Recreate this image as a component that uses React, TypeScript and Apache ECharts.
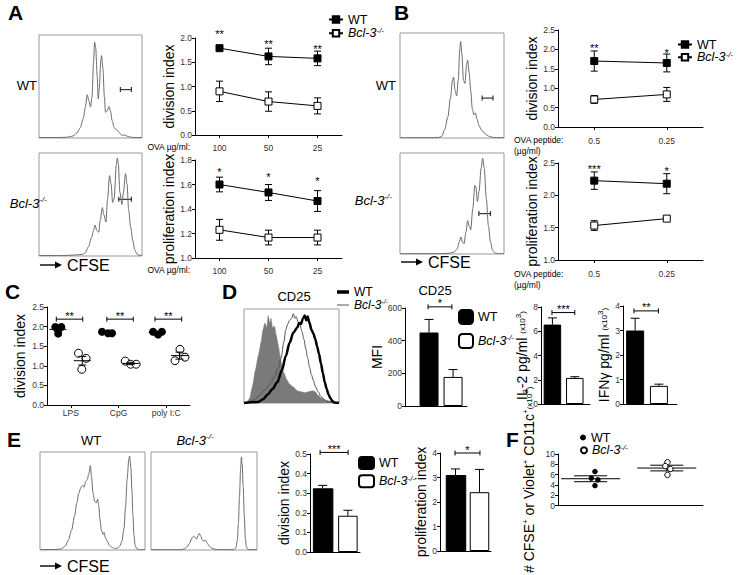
import React, { useEffect, useRef } from 'react';
import * as echarts from 'echarts';

const FONT = '"Liberation Sans", Arial, Helvetica, sans-serif';

// ---------- Panel A ----------
const aDoses = ['100', '50', '25'];
const aDivWT = [1.79, 1.62, 1.58];
const aDivWTErr = [0.03, 0.17, 0.15];
const aDivKO = [0.9, 0.69, 0.6];
const aDivKOErr = [0.21, 0.2, 0.165];
const aDivSig = ['**', '**', '**'];
const aDivSigY = [2.09, 1.88, 1.77];
const aProWT = [1.6, 1.535, 1.465];
const aProWTErr = [0.06, 0.065, 0.085];
const aProKO = [1.23, 1.167, 1.167];
const aProKOErr = [0.085, 0.06, 0.06];
const aProSig = ['*', '*', '*'];
const aProSigY = [1.705, 1.66, 1.625];
const aHistWT = [[0,0.5],[20,0.5],[28,0.8],[33,2],[37,5],[40,10],[43,19],[45,30],[46.8,42],[48.5,36],[50,30],[51.5,40],[53,75],[54,93],[55,88],[56.5,60],[57.5,38],[58.5,48],[60,75],[60.7,80],[62,68],[63.5,40],[64.5,25],[66,26],[68,30.5],[69.5,26],[71,17],[73,10],[75,8],[76,7.5],[78,5],[80,3],[82,2.5],[83.5,3],[85,2],[88,1],[92,0.5],[100,0.5]];
const aHistKO = [[0,0.5],[25,0.5],[35,1],[42,1.5],[45,3],[48,9],[51,18],[53,25],[54.5,30],[56,25],[58,23],[59.5,35],[61.5,47],[63,40],[65,33],[66.5,55],[68.5,78],[70,70],[71.5,52],[73,56],[75,88],[76,95],[77,90],[78.5,62],[80.5,50],[82,62],[84,80],[85.5,70],[87,45],[89,28],[91,15],[93,6],[95,2],[97,0.8],[100,0.5]];
const aGateWT = [[79, 89.7, 47]];
const aGateKO = [[77.4, 89.7, 55]];

// ---------- Panel B ----------
const bDoses = ['0.5', '0.25'];
const bDivWT = [1.7, 1.65];
const bDivWTErr = [0.26, 0.23];
const bDivKO = [0.71, 0.84];
const bDivKOErr = [0.1, 0.18];
const bDivSig = ['**', '*'];
const bDivSigY = [2.03, 1.92];
const bProWT = [2.227, 2.18];
const bProWTErr = [0.135, 0.155];
const bProKO = [1.533, 1.64];
const bProKOErr = [0.075, 0.025];
const bProSig = ['***', '*'];
const bProSigY = [2.41, 2.37];
const bHistWT = [[0,0.3],[30,0.3],[37,0.5],[40,1.5],[43,8],[46,20],[48.5,38],[50.5,55],[51.5,58],[53,45],[54.5,40],[56,55],[57.5,85],[58.3,92],[59.5,80],[61,55],[62.5,52],[64,70],[65,74],[66.5,62],[68,45],[69.5,28],[71,22],[72.5,24],[74,18],[76,12],[78,8],[80,6],[83,3],[86,1.5],[90,0.5],[100,0.3]];
const bHistKO = [[0,0.3],[40,0.3],[48,0.8],[52,2],[55,5],[57,12],[58.5,17],[60,12],[61.5,10],[63.5,22],[65,33],[66.5,28],[68,24],[70,45],[72,68],[73,66],[74.5,52],[76,62],[78,85],[79.5,95],[81,85],[83,55],[85,28],[87,12],[89,4],[91,1.2],[94,0.5],[100,0.3]];
const bGateWT = [[79, 89.4, 38]];
const bGateKO = [[75.8, 87, 40]];

// ---------- Panel C ----------
const cGroups = ['LPS', 'CpG', 'poly I:C'];
const cWTx = [0.35, 0.6, 0.47, 2.31, 2.56, 2.73, 4.45, 4.66, 4.82];
const cWTy = [1.99, 1.99, 1.82, 1.87, 1.83, 1.83, 1.87, 1.8, 1.87];
const cKOx = [1.32, 1.64, 1.46, 3.28, 3.51, 3.74, 5.58, 5.37, 5.79];
const cKOy = [1.32, 1.19, 0.91, 1.12, 1.04, 1.04, 1.42, 1.13, 1.22];
const cMeanX = [0.46, 1.48, 2.5, 3.51, 4.62, 5.56];
const cMean = [1.93, 1.13, 1.84, 1.06, 1.85, 1.26];
const cSem = [0.05, 0.11, 0.02, 0.03, 0.02, 0.09];
const cBrackets = [[0.39, 1.5, 2.19], [2.51, 3.62, 2.19], [4.53, 5.65, 2.19]];
const cSig = ['**', '**', '**'];

// ---------- Panel D ----------
const dHistIso = [[0,0],[3,1],[6,5],[9,18],[12,35],[15,50],[18,65],[20,78],[22,85],[24,80],[25.5,93],[27,85],[28.5,90],[30,80],[32,82],[34,72],[36,62],[38,50],[40,40],[42,32],[45,25],[48,20],[52,17],[56,13],[60,12],[64,11],[68,12],[72,13],[75,12],[78,8],[82,5],[86,3],[90,2],[95,1],[100,0]];
const dHistWT = [[0,0],[15,1],[20,4],[25,9],[30,15],[35,22],[40,35],[44,50],[48,64],[52,75],[56,80],[58,85],[60,84],[62,90],[64,93],[65.5,88],[67,92],[69,85],[71,78],[73,74],[75,68],[77,60],[79,52],[81,42],[83,32],[85,22],[87,15],[89,9],[91,5],[93,2],[95,0.5],[100,0]];
const dHistKO = [[0,0],[5,1],[10,3],[15,7],[20,12],[24,16],[28,22],[32,28],[36,37],[39,48],[42,65],[44,78],[46,84],[48,88],[50,90],[52,95],[53.5,90],[55,92],[57,86],[59,83],[61,76],[63,68],[65,58],[67,48],[69,38],[71,30],[73,24],[75,18],[78,12],[81,7],[84,4],[87,2],[90,1],[95,0.3],[100,0]];
const dMFI = [450, 178];
const dMFIErr = [80, 45];
const dMFISig = [[0.96, 1.95, 607]];
const dIL2 = [6.55, 2.15];
const dIL2Err = [0.55, 0.1];
const dIL2Sig = [[0.98, 2.0, 7.54]];
const dIFN = [3.0, 0.74];
const dIFNErr = [0.5, 0.07];
const dIFNSig = [[0.95, 1.98, 3.8]];

// ---------- Panel E ----------
const eHistWT = [[0,0.5],[15,0.5],[20,1],[24,4],[27,10],[30,20],[33,35],[35,48],[37,58],[39,64],[40.5,66],[42,64],[43.5,70],[45,72],[46.5,78],[48,86],[49,75],[50.5,58],[52,50],[53.5,48],[55,52],[56,45],[57,32],[58.5,20],[60,16],[61,18],[62.5,12],[64,9],[66,5],[68,3],[70,2],[72,1.5],[74,2],[76,4],[78,9],[80,22],[81.5,45],[83,72],[84.5,92],[85.3,96],[86.5,85],[87.5,62],[88.5,35],[89.5,15],[90.5,5],[92,1.5],[94,0.5],[100,0.5]];
const eHistKO = [[0,0.3],[28,0.3],[31,1],[34,3],[36.5,7],[38.5,12],[40,14],[41.5,13],[43,11],[44.5,15],[45.5,17],[47,14],[48.5,10],[50,9],[51.5,10],[53,7],[55,4],[57,2],[60,0.8],[65,0.3],[78,0.3],[80,2],[81.5,10],[82.5,28],[83.5,55],[84.5,82],[85.3,95],[86,88],[87,65],[88,35],[89,12],[90,3],[91.5,0.5],[100,0.3]];
const eDiv = [0.325, 0.185];
const eDivErr = [0.015, 0.028];
const eDivSig = [[0.9, 2.01, 0.508]];
const ePro = [3.1, 2.4];
const eProErr = [0.25, 0.93];
const eProSig = [[0.98, 2.02, 4.0]];

// ---------- Panel F ----------
const fWTx = [0.51, 0.46, 0.55, 0.51];
const fWTy = [6.6, 5.35, 5.0, 3.9];
const fKOx = [1.51, 1.48, 1.55, 1.51];
const fKOy = [8.4, 7.65, 7.1, 5.95];
const fMeanX = [0.45, 1.5];
const fMean = [5.21, 7.28];
const fSem = [0.57, 0.55];

const KO = '{i|Bcl-3}{s|-/-}';
const LEG: Record<string, string> = {
  A_WT: 'WT', A_KO: KO, B_WT: 'WT', B_KO: KO, DH_WT: 'WT', DH_KO: KO,
  DM_WT: 'WT', DM_KO: KO, EV_WT: 'WT', EV_KO: KO, F_WT: 'WT', F_KO: KO,
};

const richEC = (fs: number) => ({
  i: { fontStyle: 'italic', fontWeight: 'normal', fontSize: fs, fontFamily: FONT, color: '#000', lineHeight: fs + 2 },
  s: { fontStyle: 'italic', fontWeight: 'normal', fontSize: Math.round(fs * 0.6), fontFamily: FONT, color: '#000', verticalAlign: 'top', lineHeight: Math.round(fs * 0.6) },
  n: { fontSize: fs, fontFamily: FONT, color: '#000', lineHeight: fs + 2 },
  m: { fontSize: Math.round(fs * 0.55), fontFamily: FONT, color: '#000', lineHeight: fs + 2 },
  p: { fontSize: Math.round(fs * 0.55), fontFamily: FONT, color: '#000', verticalAlign: 'top', lineHeight: Math.round(fs * 0.5) },
});

const richZ = (fs: number) => ({
  i: { fontStyle: 'italic', fontWeight: 'normal', fontSize: fs, fontFamily: FONT, fill: '#000', textFill: '#000', lineHeight: fs + 2 },
  s: { fontStyle: 'italic', fontWeight: 'normal', fontSize: Math.round(fs * 0.6), fontFamily: FONT, fill: '#000', textFill: '#000', verticalAlign: 'top', lineHeight: Math.round(fs * 0.6) },
});

type Any = any;

const line = (s: Any) => ({ stroke: '#000', lineWidth: 1, fill: 'none', ...s });

const vErr = (cap: number, lower: boolean) => (params: Any, api: Any) => {
  const x = api.value(0), lo = api.value(1), hi = api.value(2);
  const a = api.coord([x, lo]);
  const b = api.coord([x, hi]);
  const ch: Any[] = [
    { type: 'line', shape: { x1: a[0], y1: a[1], x2: b[0], y2: b[1] }, style: line({}) },
    { type: 'line', shape: { x1: b[0] - cap, y1: b[1], x2: b[0] + cap, y2: b[1] }, style: line({}) },
  ];
  if (lower) ch.push({ type: 'line', shape: { x1: a[0] - cap, y1: a[1], x2: a[0] + cap, y2: a[1] }, style: line({}) });
  return { type: 'group', children: ch };
};

const meanSem = (mh: number, ch: number) => (params: Any, api: Any) => {
  const x = api.value(0), m = api.value(1), s = api.value(2);
  const pm = api.coord([x, m]);
  const pt = api.coord([x, m + s]);
  const pb = api.coord([x, m - s]);
  return {
    type: 'group',
    children: [
      { type: 'line', shape: { x1: pm[0] - mh, y1: pm[1], x2: pm[0] + mh, y2: pm[1] }, style: line({}) },
      { type: 'line', shape: { x1: pt[0], y1: pt[1], x2: pb[0], y2: pb[1] }, style: line({}) },
      { type: 'line', shape: { x1: pt[0] - ch, y1: pt[1], x2: pt[0] + ch, y2: pt[1] }, style: line({}) },
      { type: 'line', shape: { x1: pb[0] - ch, y1: pb[1], x2: pb[0] + ch, y2: pb[1] }, style: line({}) },
    ],
  };
};

const txtStyle = (text: string, x: number, y: number, fs: number, va: string) => ({
  text, x, y, textAlign: 'center', align: 'center', textVerticalAlign: va, verticalAlign: va,
  font: `${fs}px ${FONT}`, fill: '#000', textFill: '#000',
});

const bracket = (labels: string[] | null, tick: number, fs: number, color = '#000', lw = 1) => (params: Any, api: Any) => {
  const x1 = api.value(0), x2 = api.value(1), y = api.value(2);
  const a = api.coord([x1, y]);
  const b = api.coord([x2, y]);
  const st = line({ stroke: color, lineWidth: lw });
  const ch: Any[] = [
    { type: 'line', shape: { x1: a[0], y1: a[1], x2: b[0], y2: b[1] }, style: st },
    { type: 'line', shape: { x1: a[0], y1: a[1] - tick, x2: a[0], y2: a[1] + tick }, style: st },
    { type: 'line', shape: { x1: b[0], y1: b[1] - tick, x2: b[0], y2: b[1] + tick }, style: st },
  ];
  if (labels) {
    ch.push({ type: 'text', style: txtStyle(labels[params.dataIndex], (a[0] + b[0]) / 2, a[1] + 2, fs, 'bottom') });
  }
  return { type: 'group', children: ch };
};

const starText = (labels: string[], fs: number) => (params: Any, api: Any) => {
  const p = api.coord([api.value(0), api.value(1)]);
  return { type: 'text', style: txtStyle(labels[params.dataIndex], p[0], p[1], fs, 'middle') };
};

const custom = (idx: number, data: Any[], renderItem: Any, z = 3) => ({
  type: 'custom', xAxisIndex: idx, yAxisIndex: idx, data, renderItem, z, silent: true, clip: false,
  itemStyle: { color: '#000' },
});

const histS = (idx: number, data: Any[], color = '#6b6b6b', width = 1, extra: Any = {}) => ({
  type: 'line', xAxisIndex: idx, yAxisIndex: idx, data, symbol: 'none', showSymbol: false,
  smooth: 0.3, smoothMonotone: 'x', lineStyle: { color, width }, itemStyle: { color }, silent: true, ...extra,
});

const lineS = (name: string, idx: number, data: number[], open: boolean) => ({
  type: 'line', name, xAxisIndex: idx, yAxisIndex: idx, data, symbol: 'rect', symbolSize: 7,
  lineStyle: { color: '#000', width: 1 }, z: 4, silent: true,
  itemStyle: open ? { color: '#fff', borderColor: '#000', borderWidth: 1 } : { color: '#000', borderColor: '#000', borderWidth: 1 },
});

const barS = (name: string, idx: number, x: number, v: number, open: boolean, w: number) => ({
  type: 'bar', name, xAxisIndex: idx, yAxisIndex: idx, data: [[x, v]], barWidth: w, barGap: '-100%', silent: true, z: 2,
  itemStyle: open ? { color: '#fff', borderColor: '#000', borderWidth: 1 } : { color: '#000', borderColor: '#000', borderWidth: 1 },
});

const scatS = (name: string, idx: number, xs: number[], ys: number[], open: boolean, size: number) => ({
  type: 'scatter', name, xAxisIndex: idx, yAxisIndex: idx, data: xs.map((x, i) => [x, ys[i]]), symbol: 'circle', symbolSize: size,
  silent: true, z: 4,
  itemStyle: open ? { color: '#fff', borderColor: '#000', borderWidth: 1, opacity: 1 } : { color: '#000', borderColor: '#000', borderWidth: 0, opacity: 1 },
});

const errData = (vals: number[], errs: number[]) => vals.map((v, i) => [i, v - errs[i], v + errs[i]]);
const errUp = (vals: number[], errs: number[]) => vals.map((v, i) => [i + 1, v, v + errs[i]]);
const starData = (ys: number[]) => ys.map((y, i) => [i, y]);

const grids: number[][] = [
  [39, 35, 103, 103], // 0 A hist WT
  [39, 153, 103, 103], // 1 A hist KO
  [195, 38, 147, 97], // 2 A div
  [195, 160, 147, 98], // 3 A pro
  [400, 33, 104, 105], // 4 B hist WT
  [400, 153, 104, 101], // 5 B hist KO
  [558, 30, 145, 97], // 6 B div
  [558, 163, 145, 97], // 7 B pro
  [47, 307, 143, 98], // 8 C
  [244, 309, 95, 94], // 9 D hist
  [405, 308, 62, 98], // 10 MFI
  [541, 307, 49, 97], // 11 IL2
  [623, 306, 54, 98], // 12 IFN
  [40, 452, 105, 98], // 13 E hist WT
  [151, 452, 106, 98], // 14 E hist KO
  [310, 454, 50, 98], // 15 E div
  [440, 453, 51, 98], // 16 E pro
  [558, 454, 145, 98], // 17 F
];
const histGrids = [0, 1, 4, 5, 9, 13, 14];

const axLine = { show: true, lineStyle: { color: '#000', width: 1 } };
const tickLab = { fontSize: 8.5, color: '#333', fontFamily: FONT, margin: 3 };

const hiddenAx = (g: number, min: number, max: number, position?: string) => ({ type: 'value', gridIndex: g, min, max, show: false, ...(position ? { position } : {}) });
const catX = (g: number, data: string[], margin: number) => ({
  type: 'category', gridIndex: g, data, boundaryGap: true, position: 'bottom', axisLine: axLine,
  axisTick: { show: true, alignWithLabel: true, length: 3, lineStyle: { color: '#000' } },
  axisLabel: { ...tickLab, margin }, splitLine: { show: false },
});
const plainX = (g: number, min: number, max: number) => ({
  type: 'value', gridIndex: g, min, max, axisLine: { ...axLine, onZero: false }, axisTick: { show: false },
  axisLabel: { show: false }, splitLine: { show: false },
});
const valY = (g: number, min: number, max: number, interval: number, dec: number, name: string, gap: number, fs = 14) => ({
  type: 'value', gridIndex: g, min, max, interval, axisLine: axLine,
  axisTick: { show: true, length: 3, lineStyle: { color: '#000' } },
  axisLabel: { ...tickLab, formatter: (v: number) => v.toFixed(dec) },
  splitLine: { show: false },
  name, nameLocation: 'middle', nameGap: gap, nameRotate: 90,
  nameTextStyle: { fontSize: fs, fontFamily: FONT, color: '#000', rich: richEC(fs) },
});

const xAxes: Any[] = [
  hiddenAx(0, 0, 100), hiddenAx(1, 0, 100),
  catX(2, aDoses, 8), catX(3, aDoses, 8),
  hiddenAx(4, 0, 100), hiddenAx(5, 0, 100),
  catX(6, bDoses, 9), catX(7, bDoses, 9),
  hiddenAx(8, 0, 6, 'bottom'),
  hiddenAx(9, 0, 100),
  plainX(10, 0, 2.58), plainX(11, 0.49, 2.68), plainX(12, 0.49, 2.76),
  hiddenAx(13, 0, 100), hiddenAx(14, 0, 100),
  plainX(15, 0.5, 2.48), plainX(16, 0.354, 2.48),
  plainX(17, 0, 2),
  catX(8, cGroups, 3),
];
const yAxes: Any[] = [
  hiddenAx(0, 0, 100), hiddenAx(1, 0, 100),
  valY(2, 0, 2, 0.5, 1, 'division index', 15),
  valY(3, 1, 1.8, 0.2, 1, 'proliferation index', 15),
  hiddenAx(4, 0, 100), hiddenAx(5, 0, 100),
  valY(6, 0, 2.5, 0.5, 1, 'division index', 15),
  valY(7, 1, 2.5, 0.5, 1, 'proliferation index', 15),
  valY(8, 0, 2.5, 0.5, 1, 'division index', 20),
  hiddenAx(9, 0, 100),
  valY(10, 0, 600, 200, 0, 'MFI', 5),
  valY(11, 0, 8, 2, 0, '{n|IL-2 pg/ml }{m|(x10}{p|3}{m|)}', 6),
  valY(12, 0, 4, 1, 0, '{n|IFNγ pg/ml }{m|(x10}{p|3}{m|)}', 8),
  hiddenAx(13, 0, 100), hiddenAx(14, 0, 100),
  valY(15, 0, 0.5, 0.1, 1, 'division index', 16),
  valY(16, 0, 4, 1, 0, 'proliferation index', 6),
  valY(17, 0, 10, 2, 0, '{n|# CFSE}{p|+}{n| or Violet}{p|+}{n| CD11c}{p|+}{m|(x10}{p|3}{m|)}', 21),
];

const lg = (item: Any, left: number, cy: number, iw: number, ih: number, fs = 12.5) => ({
  data: [item], left, top: cy - 7, orient: 'vertical', itemWidth: iw, itemHeight: ih,
  itemGap: 0, padding: 0, selectedMode: false,
  formatter: (n: string) => LEG[n],
  textStyle: { fontSize: fs, fontFamily: FONT, color: '#000', rich: richEC(fs) },
});

const T = (text: string, x: number, y: number, size: number, align = 'left', opts: Any = {}) => ({
  type: 'text', silent: true,
  style: {
    text, x, y, textAlign: align, align, textVerticalAlign: 'middle', verticalAlign: 'middle',
    fontSize: size, fontFamily: FONT, fontWeight: opts.bold ? 'bold' : 'normal', fontStyle: opts.italic ? 'italic' : 'normal',
    font: `${opts.italic ? 'italic ' : ''}${opts.bold ? 'bold ' : 'normal '}${size}px ${FONT}`,
    fill: '#000', textFill: '#000', rich: richZ(size),
  },
});

const arrow = (x: number, y: number) => ([
  { type: 'line', silent: true, shape: { x1: x, y1: y, x2: x + 17, y2: y }, style: { stroke: '#000', lineWidth: 1.4 } },
  { type: 'polygon', silent: true, shape: { points: [[x + 15, y - 3.5], [x + 22, y], [x + 15, y + 3.5]] }, style: { fill: '#000' } },
  T('CFSE', x + 27, y, 16),
]);

function buildOption() {
  const gate = () => bracket(null, 2.5, 10, '#333', 1.2);
  const series: Any[] = [
    histS(0, aHistWT), histS(1, aHistKO),
    custom(0, aGateWT, gate()), custom(1, aGateKO, gate()),
    lineS('A_WT', 2, aDivWT, false), lineS('A_KO', 2, aDivKO, true),
    custom(2, errData(aDivWT, aDivWTErr), vErr(3.5, true), 3),
    custom(2, errData(aDivKO, aDivKOErr), vErr(3.5, true), 3),
    custom(2, starData(aDivSigY), starText(aDivSig, 11), 5),
    lineS('A_WT', 3, aProWT, false), lineS('A_KO', 3, aProKO, true),
    custom(3, errData(aProWT, aProWTErr), vErr(3.5, true), 3),
    custom(3, errData(aProKO, aProKOErr), vErr(3.5, true), 3),
    custom(3, starData(aProSigY), starText(aProSig, 11), 5),
    histS(4, bHistWT), histS(5, bHistKO),
    custom(4, bGateWT, gate()), custom(5, bGateKO, gate()),
    lineS('B_WT', 6, bDivWT, false), lineS('B_KO', 6, bDivKO, true),
    custom(6, errData(bDivWT, bDivWTErr), vErr(3.5, true), 3),
    custom(6, errData(bDivKO, bDivKOErr), vErr(3.5, true), 3),
    custom(6, starData(bDivSigY), starText(bDivSig, 11), 5),
    lineS('B_WT', 7, bProWT, false), lineS('B_KO', 7, bProKO, true),
    custom(7, errData(bProWT, bProWTErr), vErr(3.5, true), 3),
    custom(7, errData(bProKO, bProKOErr), vErr(3.5, true), 3),
    custom(7, starData(bProSigY), starText(bProSig, 11), 5),
    scatS('C_WT', 8, cWTx, cWTy, false, 8), scatS('C_KO', 8, cKOx, cKOy, true, 8),
    custom(8, cMeanX.map((x, i) => [x, cMean[i], cSem[i]]), meanSem(8.5, 4), 5),
    custom(8, cBrackets, bracket(cSig, 2.5, 11), 5),
    histS(9, dHistIso, '#7a7a7a', 0.5, { areaStyle: { color: '#7a7a7a', opacity: 1 }, z: 1, smooth: 0.15 }),
    histS(9, dHistKO, '#555', 1, { name: 'DH_KO', z: 2 }),
    histS(9, dHistWT, '#000', 2.5, { name: 'DH_WT', z: 3 }),
    barS('DM_WT', 10, 1, dMFI[0], false, 19), barS('DM_KO', 10, 2, dMFI[1], true, 19),
    custom(10, errUp(dMFI, dMFIErr), vErr(4.5, false), 3),
    custom(10, dMFISig, bracket(['*'], 2.5, 11), 5),
    barS('IL_WT', 11, 1, dIL2[0], false, 17.5), barS('IL_KO', 11, 2, dIL2[1], true, 17.5),
    custom(11, errUp(dIL2, dIL2Err), vErr(4.5, false), 3),
    custom(11, dIL2Sig, bracket(['***'], 2.5, 11), 5),
    barS('IF_WT', 12, 1, dIFN[0], false, 18), barS('IF_KO', 12, 2, dIFN[1], true, 18),
    custom(12, errUp(dIFN, dIFNErr), vErr(4.5, false), 3),
    custom(12, dIFNSig, bracket(['**'], 2.5, 11), 5),
    histS(13, eHistWT), histS(14, eHistKO),
    barS('EV_WT', 15, 1, eDiv[0], false, 20.5), barS('EV_KO', 15, 2, eDiv[1], true, 19.5),
    custom(15, errUp(eDiv, eDivErr), vErr(4.5, false), 3),
    custom(15, eDivSig, bracket(['***'], 2.5, 11), 5),
    barS('EP_WT', 16, 1, ePro[0], false, 20.5), barS('EP_KO', 16, 2, ePro[1], true, 19.5),
    custom(16, errUp(ePro, eProErr), vErr(4.5, false), 3),
    custom(16, eProSig, bracket(['*'], 2.5, 11), 5),
    scatS('F_WT', 17, fWTx, fWTy, false, 5.5), scatS('F_KO', 17, fKOx, fKOy, true, 5.5),
    custom(17, fMeanX.map((x, i) => [x, fMean[i], fSem[i]]), meanSem(29.5, 16.5), 3),
  ];

  const graphic: Any[] = [
    T('A', 8, 12, 21, 'left', { bold: true }),
    T('B', 394, 12, 21, 'left', { bold: true }),
    T('C', 5, 291, 21, 'left', { bold: true }),
    T('D', 222, 291, 21, 'left', { bold: true }),
    T('E', 7, 439, 21, 'left', { bold: true }),
    T('F', 506, 439, 21, 'left', { bold: true }),
    T('WT', 37, 85, 13, 'right'),
    T(KO, 47, 203, 13, 'right'),
    T('WT', 396, 85, 13, 'right'),
    T(KO, 392, 200, 13, 'right'),
    ...arrow(40, 265),
    ...arrow(401, 262),
    ...arrow(40, 566),
    T('OVA µg/ml:', 190, 147, 8.5, 'right'),
    T('OVA µg/ml:', 190, 270, 8.5, 'right'),
    T('OVA peptide:', 514, 140, 8.5, 'left'),
    T('(µg/ml)', 514, 151, 8.5, 'left'),
    T('OVA peptide:', 514, 274, 8.5, 'left'),
    T('(µg/ml)', 514, 285, 8.5, 'left'),
    T('CD25', 294, 296, 13, 'center'),
    T('CD25', 435, 290, 13, 'center'),
    T('WT', 91, 440, 13, 'center'),
    T(KO, 195, 440, 13, 'center'),
  ];

  const rectIcon = (name: string, color: string) => ({ name, icon: 'rect', itemStyle: { color, borderWidth: 0 } });

  return {
    animation: false,
    backgroundColor: '#fff',
    textStyle: { fontFamily: FONT },
    grid: grids.map((g, i) => ({
      left: g[0], top: g[1], width: g[2], height: g[3], containLabel: false,
      show: histGrids.includes(i), borderColor: '#999', borderWidth: 1, backgroundColor: 'transparent',
    })),
    xAxis: xAxes,
    yAxis: yAxes,
    legend: [
      lg('A_WT', 328, 20, 14, 8), lg('A_KO', 328, 33, 14, 8),
      lg('B_WT', 677, 45, 14, 8), lg('B_KO', 677, 57, 14, 8),
      lg(rectIcon('DH_WT', '#000'), 337, 293, 12, 3.5, 12), lg(rectIcon('DH_KO', '#555'), 337, 305, 12, 1, 12),
      lg('DM_WT', 458, 316, 14, 14), lg('DM_KO', 458, 340, 14, 14),
      lg('EV_WT', 358, 463, 15, 12), lg('EV_KO', 358, 481, 15, 12),
      lg('F_WT', 580, 438, 6, 6), lg('F_KO', 580, 450, 6, 6),
    ],
    graphic,
    series,
  };
}

export default function App() {
  const ref = useRef<HTMLDivElement>(null);
  useEffect(() => {
    if (!ref.current) return;
    const chart = echarts.init(ref.current, null, { renderer: 'svg' });
    chart.setOption(buildOption() as Any);
    return () => chart.dispose();
  }, []);
  return (
    <div
      ref={ref}
      style={{ position: 'absolute', left: 0, top: 0, width: 739, height: 575, background: '#fff' }}
    />
  );
}
